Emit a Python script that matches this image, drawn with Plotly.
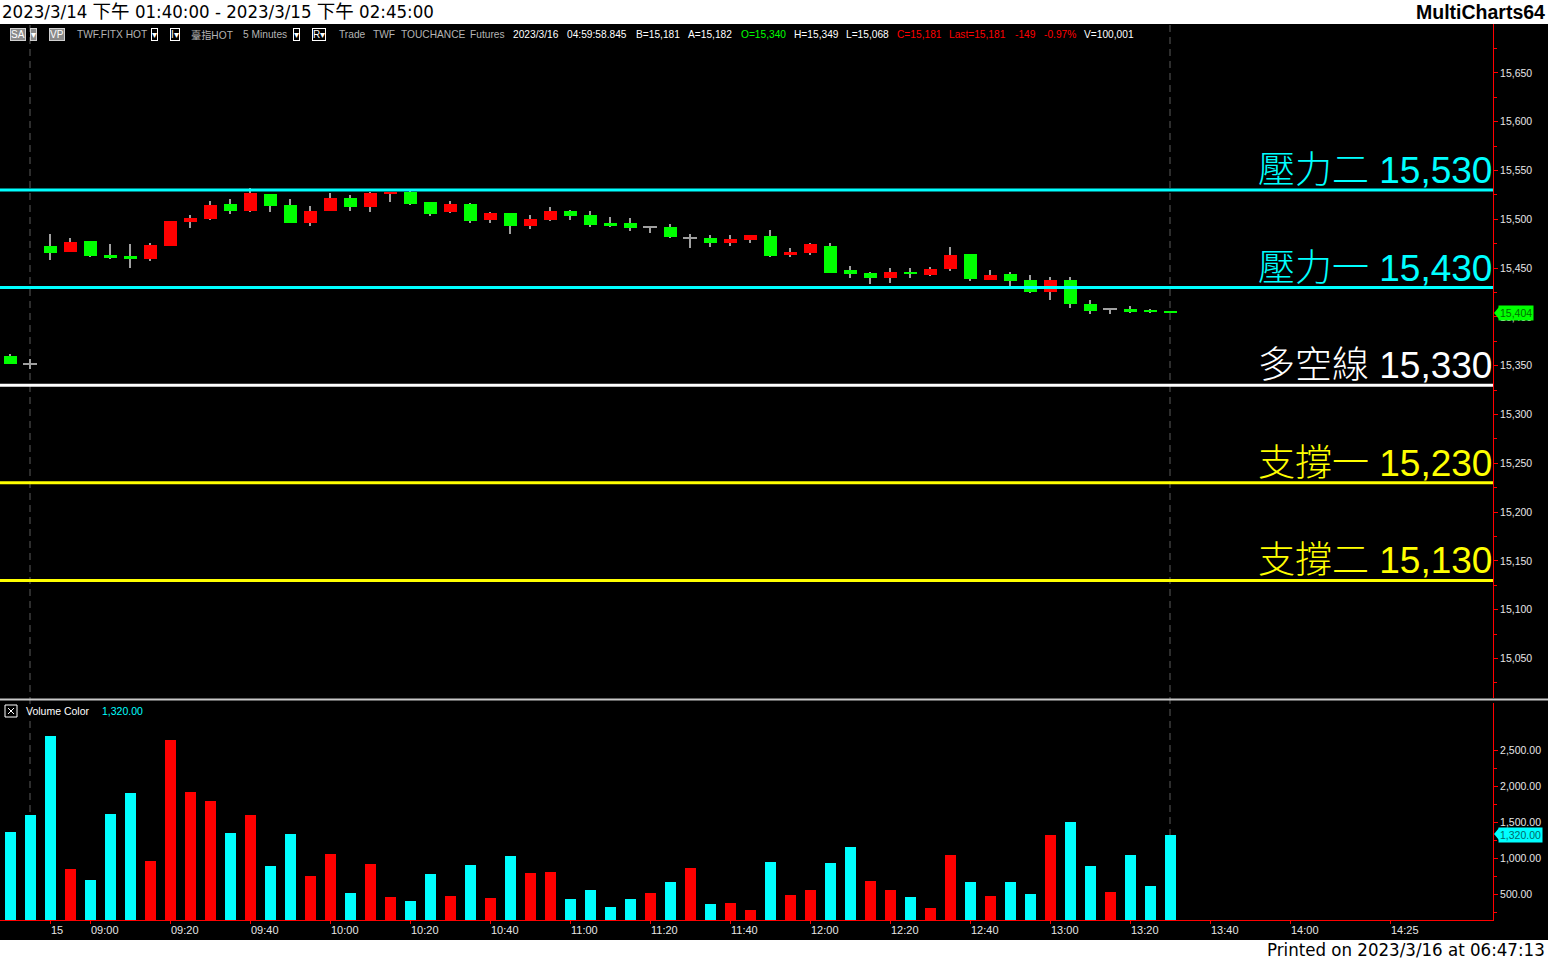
import plotly.graph_objects as go
import pandas as pd

# ---------------- data ----------------
prev_day_times = ["03/14 13:40", "03/14 13:45"]
day_times = ["03/15 " + t for t in pd.date_range("2023-03-15 08:50", "2023-03-15 14:50", freq="5min").strftime("%H:%M")]
slots = prev_day_times + day_times

opens = [15360, 15352, 15473, 15466, 15478, 15463, 15462, 15459, 15473, 15497,
         15500, 15516, 15508, 15526, 15515, 15496, 15508, 15522, 15513, 15526,
         15528, 15518, 15507, 15516, 15499, 15506, 15493, 15499, 15509, 15504,
         15496, 15496, 15492, 15492, 15481, 15481, 15476, 15479, 15483, 15464,
         15465, 15473, 15448, 15445, 15440, 15446, 15443, 15449, 15464, 15438,
         15444, 15438, 15426, 15438, 15413, 15408, 15408, 15407, 15406]
highs = [15362, 15357, 15485, 15481, 15478, 15475, 15475, 15476, 15498, 15504,
         15519, 15521, 15532, 15526, 15521, 15514, 15527, 15525, 15528, 15528,
         15530, 15518, 15519, 15517, 15507, 15506, 15504, 15513, 15510, 15509,
         15502, 15501, 15493, 15495, 15485, 15484, 15484, 15484, 15489, 15471,
         15476, 15476, 15452, 15446, 15450, 15450, 15451, 15472, 15464, 15448,
         15446, 15443, 15441, 15441, 15417, 15409, 15411, 15408, 15406]
lows = [15352, 15347, 15458, 15466, 15461, 15459, 15450, 15457, 15473, 15491,
        15499, 15505, 15507, 15507, 15496, 15493, 15508, 15509, 15507, 15518,
        15515, 15503, 15506, 15496, 15496, 15485, 15490, 15498, 15499, 15492,
        15492, 15488, 15486, 15481, 15471, 15472, 15473, 15476, 15461, 15461,
        15463, 15445, 15440, 15434, 15435, 15440, 15442, 15447, 15437, 15438,
        15432, 15424, 15417, 15409, 15403, 15403, 15404, 15404, 15404]
closes = [15352, 15352, 15465, 15477, 15462, 15460, 15459, 15474, 15498, 15501,
          15515, 15508, 15527, 15514, 15496, 15508, 15522, 15513, 15527, 15527,
          15516, 15505, 15516, 15498, 15506, 15493, 15500, 15508, 15503, 15494,
          15494, 15491, 15492, 15482, 15481, 15476, 15480, 15484, 15462, 15466,
          15475, 15445, 15444, 15440, 15446, 15444, 15449, 15463, 15439, 15443,
          15437, 15426, 15438, 15413, 15406, 15408, 15406, 15405, 15404]
volumes = [1367, 1602, 2693, 856, 704, 1616, 1906, 967, 2638, 1920,
           1795, 1353, 1602, 898, 1340, 760, 1063, 525, 925, 470,
           414, 787, 483, 911, 456, 1036, 801, 815, 442, 566,
           331, 442, 525, 677, 870, 373, 387, 290, 953, 497,
           566, 939, 1160, 690, 566, 470, 318, 1050, 677, 483,
           677, 511, 1326, 1505, 898, 539, 1050, 621, 1320]
vol_dir = ["dn", "dn", "dn", "up", "dn", "dn", "dn", "up", "up", "up",
           "up", "dn", "up", "dn", "dn", "up", "up", "dn", "up", "up",
           "dn", "dn", "up", "dn", "up", "dn", "up", "up", "dn", "dn",
           "dn", "dn", "up", "dn", "up", "dn", "up", "up", "dn", "up",
           "up", "dn", "dn", "up", "up", "dn", "up", "up", "dn", "up",
           "dn", "dn", "up", "dn", "dn", "up", "dn", "dn", "dn"]

level_names = ["壓力二", "壓力一", "多空線", "支撐一", "支撐二"]
level_values = [15530, 15430, 15330, 15230, 15130]

price_tick_values = [15050, 15100, 15150, 15200, 15250, 15300, 15350, 15400,
                     15450, 15500, 15550, 15600, 15650]
price_minor_values = [15025, 15075, 15125, 15175, 15225, 15275, 15325, 15375,
                      15425, 15475, 15525, 15575, 15625, 15675]
vol_tick_values = [500, 1000, 1500, 2000, 2500]
vol_minor_values = [250, 750, 1250, 1750, 2250]

time_tick_slots = ["03/15 08:50", "03/15 09:00", "03/15 09:20", "03/15 09:40", "03/15 10:00",
                   "03/15 10:20", "03/15 10:40", "03/15 11:00", "03/15 11:20", "03/15 11:40",
                   "03/15 12:00", "03/15 12:20", "03/15 12:40", "03/15 13:00", "03/15 13:20",
                   "03/15 13:40", "03/15 14:00", "03/15 14:25"]
time_tick_labels = ["15", "09:00", "09:20", "09:40", "10:00", "10:20", "10:40", "11:00",
                    "11:20", "11:40", "12:00", "12:20", "12:40", "13:00", "13:20",
                    "13:40", "14:00", "14:25"]

title_text = "2023/3/14 下午 01:40:00 - 2023/3/15 下午 02:45:00"
printed_text = "Printed on 2023/3/16 at 06:47:13"

# ---------------- styles ----------------
W, H = 1548, 960
ML, MR, MT, MB = 0, 55, 24, 40
PW, PH = W - ML - MR, H - MT - MB
RED, GREEN, CYAN, YELLOW, GRAY = "#ff0000", "#00ff00", "#00ffff", "#ffff00", "#a0a0a0"
level_colors = [CYAN, CYAN, "#ffffff", YELLOW, YELLOW]
FONT = "Liberation Sans, Arial, Noto Sans CJK TC, sans-serif"


def px(x):
    return (x - ML) / PW


def py(y):
    return (H - MB - y) / PH


n = len(opens)
bar_x = slots[:n]

body_base, body_h, body_col, body_w = [], [], [], []
for o, c in zip(opens, closes):
    if c == o:
        body_base.append(o - 0.6)
        body_h.append(1.2)
        body_col.append(GRAY)
        body_w.append(0.72)
    else:
        lo, hi = min(o, c), max(o, c)
        h = max(hi - lo, 2.0)
        body_base.append(lo)
        body_h.append(h)
        body_col.append(RED if c > o else GREEN)
        body_w.append(0.65)

fig = go.Figure()
# wicks
fig.add_trace(go.Bar(x=bar_x, y=[h - l for h, l in zip(highs, lows)], base=lows,
                     width=0.06, marker=dict(color=GRAY, line=dict(width=0)),
                     xaxis="x", yaxis="y", hoverinfo="skip"))
# bodies
fig.add_trace(go.Bar(x=bar_x, y=body_h, base=body_base, width=body_w,
                     marker=dict(color=body_col, line=dict(width=0)),
                     xaxis="x", yaxis="y", hoverinfo="skip"))
# volume
fig.add_trace(go.Bar(x=bar_x, y=volumes, width=0.55,
                     marker=dict(color=[RED if d == "up" else CYAN for d in vol_dir], line=dict(width=0)),
                     xaxis="x", yaxis="y2", hoverinfo="skip"))

shapes = []
# black chart background incl. axis areas
shapes.append(dict(type="rect", xref="paper", yref="paper", x0=px(0), x1=px(W), y0=py(940), y1=py(24),
                   fillcolor="black", line=dict(width=0), layer="below"))
# pane separator
shapes.append(dict(type="line", xref="paper", yref="paper", x0=px(0), x1=px(W), y0=py(699.5), y1=py(699.5),
                   line=dict(color="#c8c8c8", width=2)))
# session / current bar dashed lines
for s in [slots[1], bar_x[-1]]:
    shapes.append(dict(type="line", xref="x", yref="paper", x0=s, x1=s, y0=0, y1=1,
                       line=dict(color="#5a5a5a", width=1, dash="7px,5px"), layer="below"))
# level lines
for v, col in zip(level_values, level_colors):
    shapes.append(dict(type="line", xref="paper", yref="y", x0=0, x1=1, y0=v, y1=v,
                       line=dict(color=col, width=3)))
# last value pointers
last_c = closes[-1]
shapes.append(dict(type="path", xref="paper", yref="paper",
                   path=f"M {px(1494)} {py(313)} L {px(1499)} {py(307)} L {px(1499)} {py(319)} Z",
                   fillcolor=GREEN, line=dict(width=0)))
shapes.append(dict(type="path", xref="paper", yref="paper",
                   path=f"M {px(1494)} {py(834)} L {px(1499)} {py(828)} L {px(1499)} {py(840)} Z",
                   fillcolor=CYAN, line=dict(width=0)))
# volume close box icon
shapes.append(dict(type="rect", xref="paper", yref="paper", x0=px(5), x1=px(17), y0=py(717), y1=py(705),
                   line=dict(color="white", width=1)))
shapes.append(dict(type="line", xref="paper", yref="paper", x0=px(8), x1=px(14), y0=py(708), y1=py(714),
                   line=dict(color="white", width=1)))
shapes.append(dict(type="line", xref="paper", yref="paper", x0=px(8), x1=px(14), y0=py(714), y1=py(708),
                   line=dict(color="white", width=1)))

ann = []


def text(x, y, s, color, size, anchor="left", bg=None, border=None, bold=False, family=FONT, yanchor="middle"):
    d = dict(xref="paper", yref="paper", x=px(x), y=py(y), text=(f"<b>{s}</b>" if bold else s),
             showarrow=False, xanchor=anchor, yanchor=yanchor,
             font=dict(color=color, size=size, family=family))
    if bg:
        d["bgcolor"] = bg
        d["borderpad"] = 0
    if border:
        d["bordercolor"] = border
        d["borderwidth"] = 1
    ann.append(d)


# header strip
text(0, 12, title_text, "black", 18.5, family="DejaVu Sans Condensed, Liberation Sans, Noto Sans CJK TC")
text(1547, 12, "MultiCharts64", "black", 19.5, anchor="right", bold=True)
text(1547, 949, printed_text, "black", 18.5, anchor="right", family="DejaVu Sans Condensed, Liberation Sans")

# info bar
IB = 35
text(10, IB, "SA", "white", 10, bg="#8a8a8a", border="#d0d0d0")
text(30, IB, "▾", "white", 10, bg="#8a8a8a", border="#d0d0d0")
text(49, IB, "VP", "white", 10, bg="#8a8a8a", border="#d0d0d0")
text(75, IB, "TWF.FITX HOT", "#b4b4b4", 10.2)
text(151, IB, "▾", "white", 10, bg="black", border="white")
text(170, IB, "I▾", "white", 10, bg="black", border="white")
text(189, IB, "臺指HOT", "#b4b4b4", 10.2)
text(241, IB, "5 Minutes", "#b4b4b4", 10.2)
text(293, IB, "▾", "white", 10, bg="black", border="white")
text(312, IB, "R▾", "white", 10, bg="black", border="white")
text(337, IB, "Trade", "#b4b4b4", 10.2)
text(371, IB, "TWF", "#b4b4b4", 10.2)
text(399, IB, "TOUCHANCE", "#b4b4b4", 10.2)
text(468, IB, "Futures", "#b4b4b4", 10.2)
text(511, IB, "2023/3/16", "white", 10.2)
text(565, IB, "04:59:58.845", "white", 10.2)
text(634, IB, "B=15,181", "white", 10.2)
text(686, IB, "A=15,182", "white", 10.2)
text(739, IB, "O=15,340", GREEN, 10.2)
text(792, IB, "H=15,349", "white", 10.2)
text(844, IB, "L=15,068", "white", 10.2)
text(895, IB, "C=15,181", RED, 10.2)
text(947, IB, "Last=15,181", RED, 10.2)
text(1013, IB, "-149", RED, 10.2)
text(1042, IB, "-0.97%", RED, 10.2)
text(1082, IB, "V=100,001", "white", 10.2)

# volume pane header
text(24, 711, "Volume Color", "white", 10.5)
text(100, 711, f"{volumes[-1]:,.2f}", CYAN, 10.5)

# level labels
for name, v, col in zip(level_names, level_values, level_colors):
    ann.append(dict(xref="paper", yref="y", x=px(1494), y=v, xanchor="right", yanchor="bottom",
                    yshift=-3, showarrow=False, text=f"{name} {v:,}",
                    font=dict(color=col, size=37, family=FONT, weight=300)))

# last value markers
ann.append(dict(xref="paper", yref="y", x=px(1498), y=last_c, xanchor="left", yanchor="middle",
                showarrow=False, text=f"{last_c:,}", bgcolor=GREEN, borderpad=1,
                font=dict(color="#007000", size=10.5, family=FONT)))
ann.append(dict(xref="paper", yref="y2", x=px(1498), y=volumes[-1], xanchor="left", yanchor="middle",
                showarrow=False, text=f"{volumes[-1]:,.2f}", bgcolor=CYAN, borderpad=1,
                font=dict(color="#006a6a", size=10.5, family=FONT)))

# price scale: 15530 at y=190, 0.976 px per point
p_top = 15530 + (190 - 24) / 0.976
p_bot = 15530 - (698 - 190) / 0.976
# volume scale: 0 at y=931, 36.2 px per 500; pane spans y 703..920
v_bot = (931 - 920) * 500 / 36.2
v_top = (931 - 703) * 500 / 36.2

axis_common = dict(showgrid=False, zeroline=False, showline=True, linecolor=RED, linewidth=1,
                   ticks="outside", tickcolor=RED, ticklen=4, side="right", anchor="x",
                   tickfont=dict(color="#e6e6e6", size=10.5, family=FONT), fixedrange=True)

fig.update_layout(
    width=W, height=H, margin=dict(l=ML, r=MR, t=MT, b=MB),
    paper_bgcolor="white", plot_bgcolor="black", barmode="overlay", showlegend=False,
    bargap=0, hovermode=False,
    xaxis=dict(type="category", categoryorder="array", categoryarray=slots,
               range=[-0.5, (PW - 10) / 20], anchor="y2", showgrid=False, zeroline=False,
               showline=True, linecolor=RED, linewidth=1, ticks="outside", tickcolor=RED, ticklen=3,
               tickvals=time_tick_slots, ticktext=time_tick_labels, ticklabelposition="outside right",
               tickfont=dict(color="#e6e6e6", size=11, family=FONT), fixedrange=True),
    yaxis=dict(domain=[py(698), 1.0], range=[p_bot, p_top], tickvals=price_tick_values,
               tickformat=",d",
               minor=dict(tickvals=price_minor_values, ticks="outside", ticklen=3, tickcolor=RED),
               **axis_common),
    yaxis2=dict(domain=[0, py(703)], range=[v_bot, v_top],
                tickvals=vol_tick_values, tickformat=",.2f",
                minor=dict(tickvals=vol_minor_values, ticks="outside", ticklen=3, tickcolor=RED),
                **axis_common),
    shapes=shapes, annotations=ann,
)

fig.write_html("out.html", config={"displayModeBar": False},
               post_script="document.body.style.margin='0px';document.body.style.padding='0px';document.body.style.overflow='hidden';")
